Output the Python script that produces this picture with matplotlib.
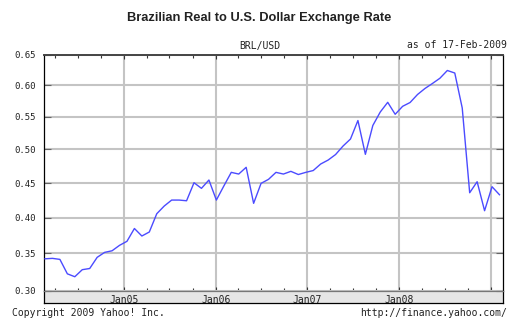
import numpy as np
import pandas as pd
import matplotlib
matplotlib.use('Agg')
import matplotlib.pyplot as plt
import matplotlib.dates as mdates

# BRL/USD, roughly monthly points
start_date = '2004-02-22'
end_date = '2009-02-03'
brl_usd = [0.3427, 0.3433, 0.3419, 0.3223, 0.3184, 0.3279, 0.3295, 0.3447, 0.3515, 0.3537,
           0.3612, 0.3668, 0.3847, 0.3742, 0.3798, 0.4056, 0.4166, 0.4252, 0.4252, 0.4242,
           0.4504, 0.4422, 0.4544, 0.4252, 0.4456, 0.4657, 0.4632, 0.4732, 0.4205, 0.4495,
           0.4554, 0.4657, 0.4632, 0.4672, 0.4625, 0.4657, 0.4684, 0.4781, 0.4840, 0.4923,
           0.5051, 0.5158, 0.5443, 0.4926, 0.5366, 0.5576, 0.5728, 0.5540, 0.5665, 0.5725,
           0.5852, 0.5948, 0.6028, 0.6112, 0.6238, 0.6197, 0.5639, 0.4358, 0.4519, 0.4099,
           0.4446, 0.4329]

y_ticks = [0.30, 0.35, 0.40, 0.45, 0.50, 0.55, 0.60, 0.65]
year_ticks = ['2005-01-01', '2006-01-01', '2007-01-01', '2008-01-01', '2009-01-01']
year_labels = ['Jan05', 'Jan06', 'Jan07', 'Jan08', '']

dates = pd.date_range(start_date, end_date, periods=len(brl_usd))

MONO = ['DejaVu Sans Mono']
W, H = 519, 328

fig = plt.figure(figsize=(W / 100, H / 100), dpi=100)
fig.patch.set_facecolor('white')

# plot area and the grey date strip under it (pixel boxes from the reference)
ax = fig.add_axes([44 / W, (H - 290.5) / H, 459 / W, 236 / H])
strip = fig.add_axes([44 / W, (H - 302.5) / H, 459 / W, 12 / H], sharex=ax)
ax.set_zorder(2)
strip.set_zorder(1)

ax.plot(dates, brl_usd, color='#4b4bff', linewidth=1.0, zorder=3)

# yahoo's axis is slightly compressed at the top, close to log(v + c)
ax.set_yscale('function', functions=(lambda v: np.log(np.asarray(v) + 1.14),
                                     lambda u: np.exp(u) - 1.14))
ax.set_ylim(0.30, 0.65)
ax.set_xlim(pd.Timestamp('2004-02-18'), pd.Timestamp('2009-02-17'))

ax.set_yticks(y_ticks)
ax.set_yticklabels([f'{v:.2f}' for v in y_ticks], family=MONO, fontsize=6.5)
ax.yaxis.set_minor_locator(matplotlib.ticker.NullLocator())
ax.set_xticks(pd.to_datetime(year_ticks))
ax.set_xticklabels(year_labels, family=MONO, fontsize=7)
ax.xaxis.set_minor_locator(mdates.MonthLocator(bymonth=[4, 7, 10]))

ax.grid(True, which='major', color='#c4c4c4', linewidth=1.5)
ax.set_axisbelow(True)

ax.tick_params(axis='y', direction='in', left=True, right=True, length=5,
               width=0.8, color='#666666', pad=6, labelcolor='#222222')
ax.tick_params(axis='x', which='major', direction='in', top=True, bottom=True,
               length=3, width=0.8, color='#333333', pad=3, labelcolor='#222222')
ax.tick_params(axis='x', which='minor', direction='in', top=True, bottom=True,
               length=2.5, width=0.8, color='#333333')

for side in ['left', 'right']:
    ax.spines[side].set_color('black')
    ax.spines[side].set_linewidth(0.9)
ax.spines['top'].set_color('#444444')
ax.spines['top'].set_linewidth(1.4)
ax.spines['bottom'].set_color('#777777')
ax.spines['bottom'].set_linewidth(0.9)

strip.set_facecolor('#e6e6e6')
strip.set_yticks([])
strip.tick_params(axis='x', which='both', length=0, labelbottom=False)
for side in ['left', 'right', 'bottom']:
    strip.spines[side].set_color('black')
    strip.spines[side].set_linewidth(0.9)
strip.spines['top'].set_visible(False)

fig.text(0.5, 1 - 21 / H, 'Brazilian Real to U.S. Dollar Exchange Rate',
         ha='center', va='baseline', fontsize=9.3, fontweight='bold',
         family='Liberation Sans', color='#222222')
fig.text(260 / W, 1 - 45.5 / H, 'BRL/USD', ha='center', va='center',
         family=MONO, fontsize=7, color='#222222')
fig.text(507 / W, 1 - 45.5 / H, 'as of 17-Feb-2009', ha='right', va='center',
         family=MONO, fontsize=7, color='#222222')
fig.text(12 / W, 1 - 315.5 / H, 'Copyright 2009 Yahoo! Inc.', ha='left', va='baseline',
         family=MONO, fontsize=7, color='#222222')
fig.text(507 / W, 1 - 315.5 / H, 'http://finance.yahoo.com/', ha='right', va='baseline',
         family=MONO, fontsize=7, color='#222222')

fig.savefig('out.png', dpi=100)
